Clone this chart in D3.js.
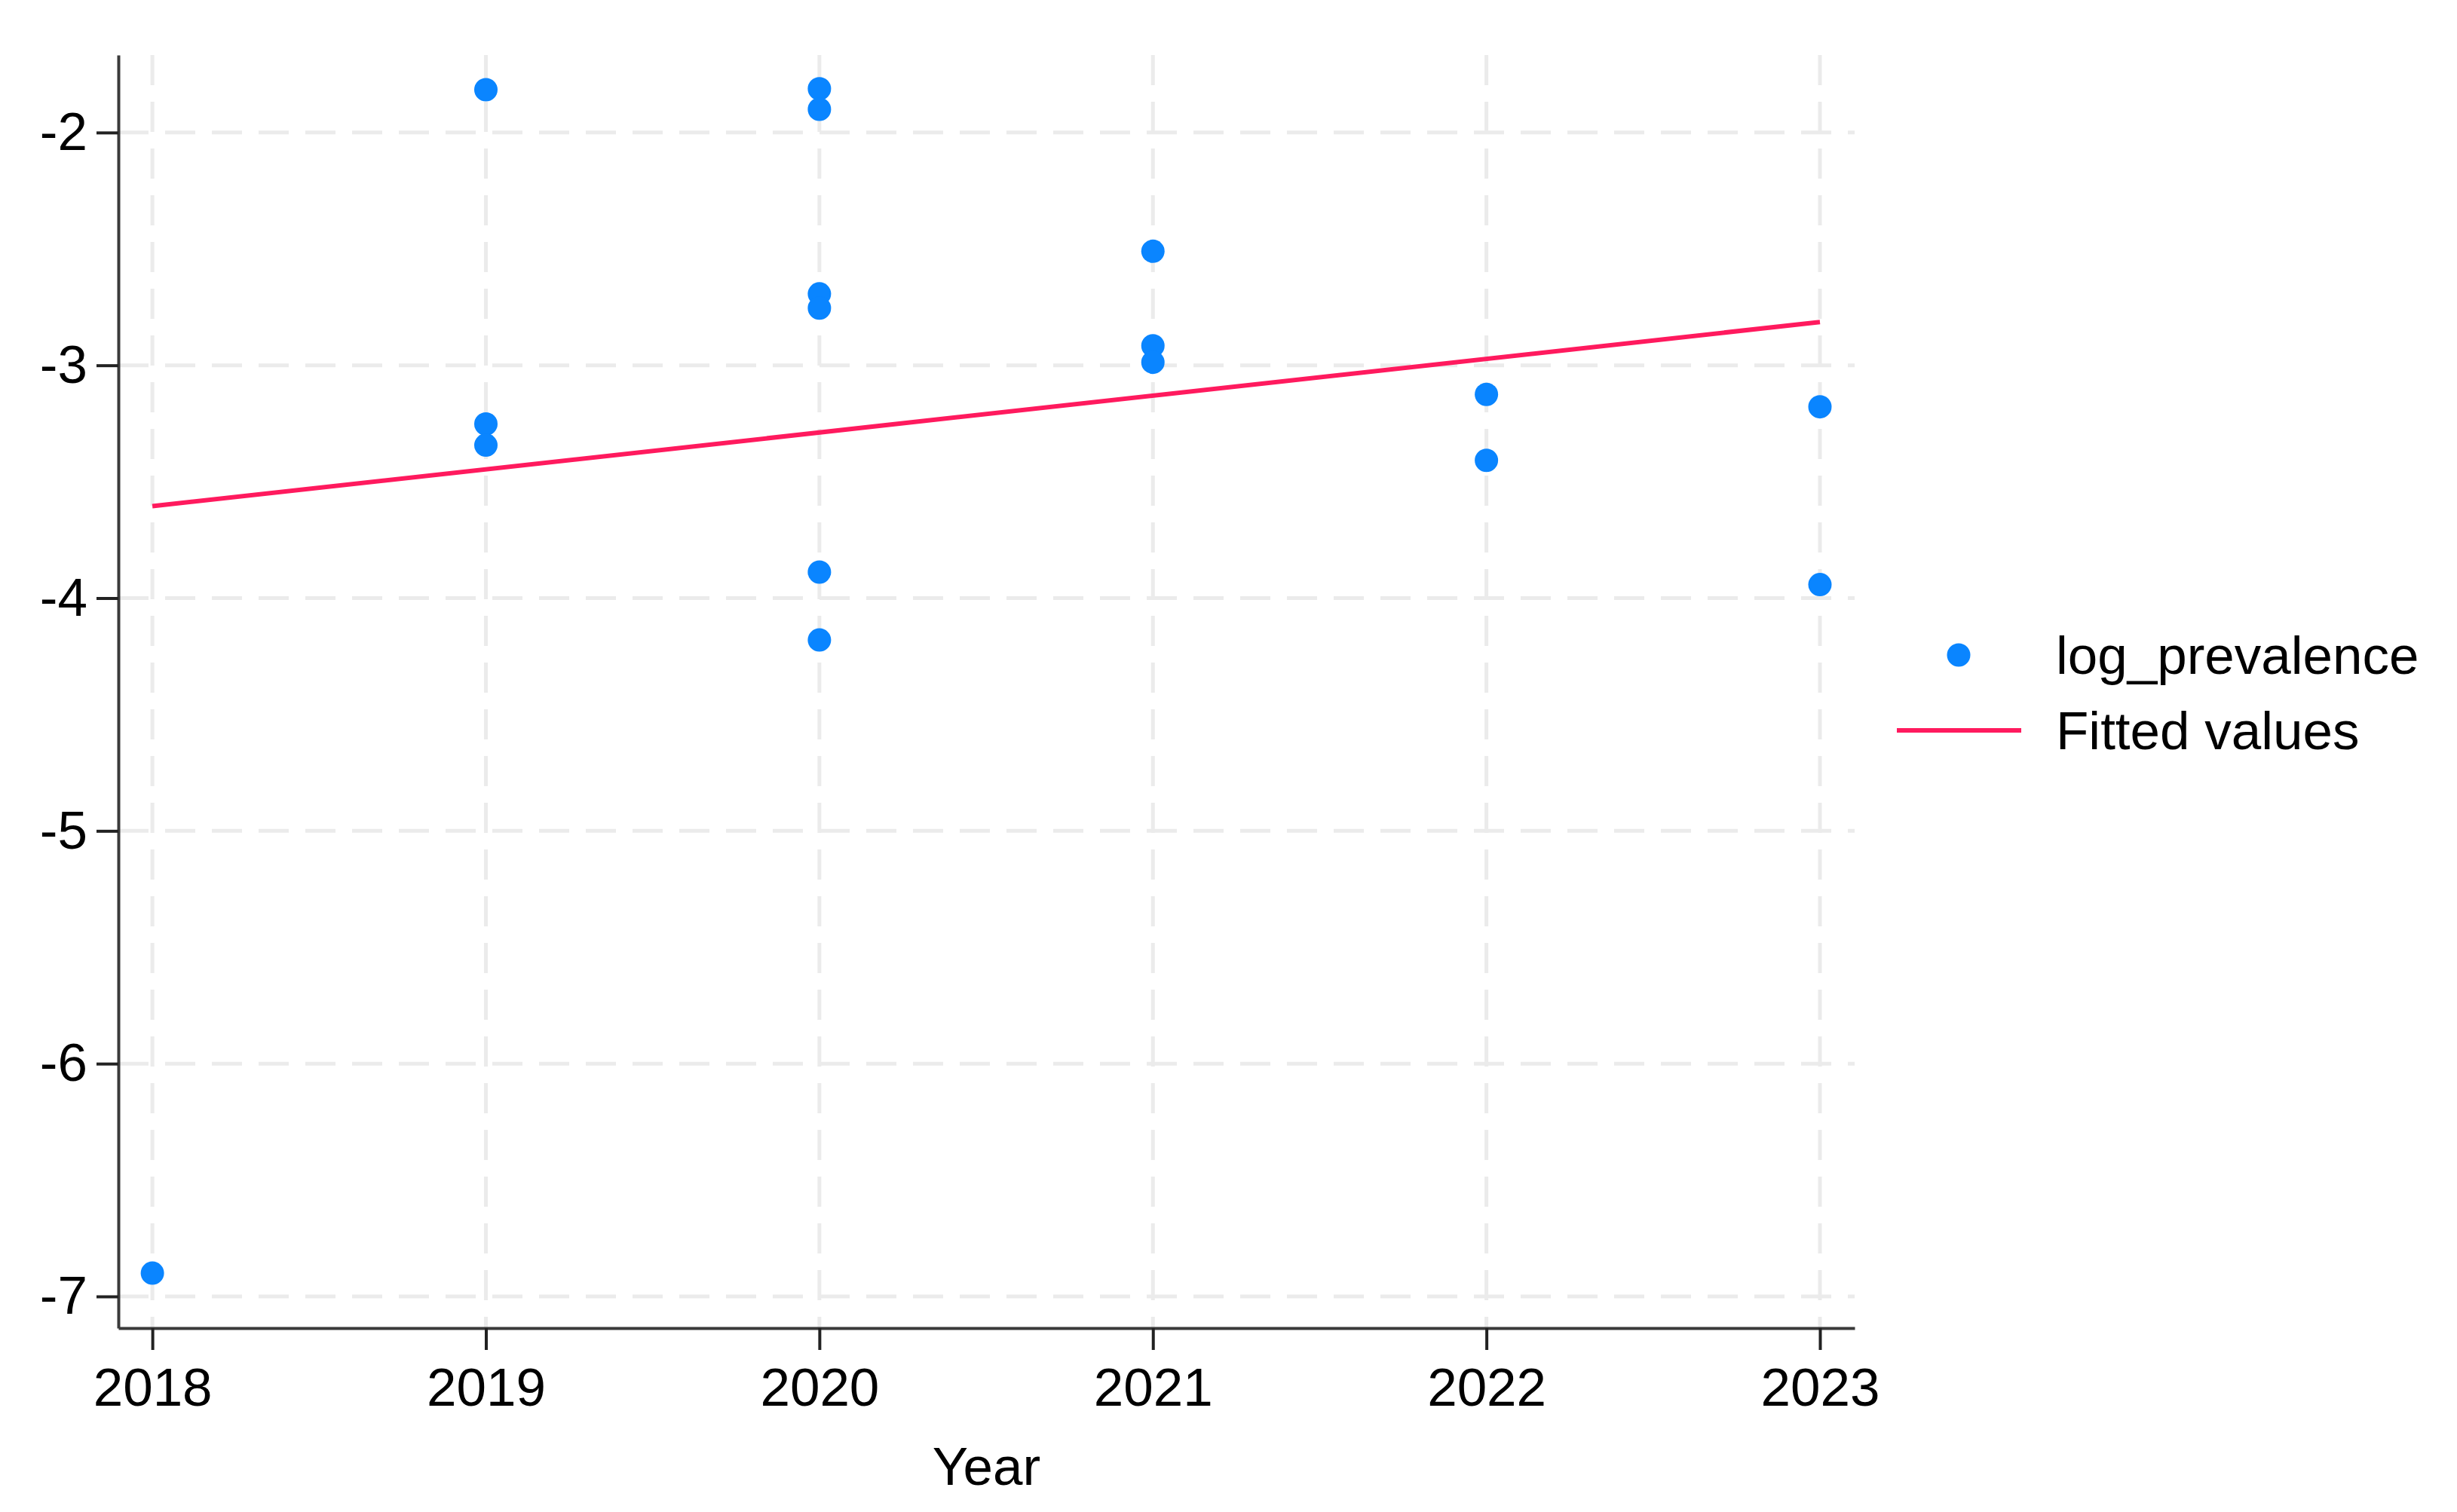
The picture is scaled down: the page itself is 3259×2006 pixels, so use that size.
<!DOCTYPE html>
<html>
<head>
<meta charset="utf-8">
<script src="https://cdn.jsdelivr.net/npm/d3@7"></script>
<style>
  body { margin: 0; background: #fff; }
  text { font-family: "Liberation Sans", Arial, sans-serif; fill: #000; }
</style>
</head>
<body>
<div id="chart"></div>
<script>
// Data
var years = [2018, 2019, 2019, 2019, 2020, 2020, 2020, 2020, 2020, 2020, 2021, 2021, 2021, 2022, 2022, 2023, 2023];
var logPrevalence = [-6.90, -1.816, -3.252, -3.343, -1.812, -1.90, -2.693, -2.754, -3.888, -4.18, -2.51, -2.916, -2.987, -3.125, -3.408, -3.178, -3.942];
var fitYears = [2018, 2023];
var fitValues = [-3.605, -2.814];
var xTicks = [2018, 2019, 2020, 2021, 2022, 2023];
var yTicks = [-2, -3, -4, -5, -6, -7];
var legendLabels = ["log_prevalence", "Fitted values"];

var W = 3259, H = 2006;
var margin = {top: 73, left: 157, right: W - 2460, bottom: H - 1762};
var width = W - margin.left - margin.right,
    height = H - margin.top - margin.bottom;

var svg = d3.select("#chart").append("svg")
  .attr("width", W).attr("height", H);

var g = svg.append("g")
  .attr("transform", "translate(" + margin.left + "," + margin.top + ")");

var x = d3.scaleLinear().domain([2017.898, 2023.104]).range([0, width]);
var y = d3.scaleLinear().domain([-7.136, -1.667]).range([height, 0]);

// gridlines
g.append("g").selectAll("line").data(yTicks).enter().append("line")
  .attr("x1", 0).attr("x2", width)
  .attr("y1", d => y(d)).attr("y2", d => y(d))
  .attr("stroke", "#ebebeb").attr("stroke-width", 5)
  .attr("stroke-dasharray", "40,22");
g.append("g").selectAll("line").data(xTicks).enter().append("line")
  .attr("x1", d => x(d)).attr("x2", d => x(d))
  .attr("y1", 0).attr("y2", height)
  .attr("stroke", "#ebebeb").attr("stroke-width", 5)
  .attr("stroke-dasharray", "40,22");

// axes
var xAxis = g.append("g")
  .attr("transform", "translate(0," + height + ")")
  .call(d3.axisBottom(x).tickValues(xTicks).tickFormat(d3.format("d"))
    .tickSize(29).tickSizeOuter(0).tickPadding(24));
var yAxis = g.append("g")
  .call(d3.axisLeft(y).tickValues(yTicks).tickFormat(d => d.toString().replace("\u2212", "-"))
    .tickSize(29).tickSizeOuter(0).tickPadding(12));

[xAxis, yAxis].forEach(function(a) {
  a.select(".domain").attr("stroke", "#3a3a3a").attr("stroke-width", 4);
  a.selectAll(".tick line").attr("stroke", "#222").attr("stroke-width", 4);
  a.selectAll(".tick text")
    .style("font-family", "'Liberation Sans', Arial, sans-serif")
    .style("font-size", "71px").attr("fill", "#000");
});

// axis title
g.append("text")
  .attr("x", width / 2).attr("y", height + 208)
  .attr("text-anchor", "middle")
  .style("font-size", "71px")
  .text("Year");

// fitted line
var fitData = fitYears.map((d, i) => ({x: d, y: fitValues[i]}));
g.append("path")
  .datum(fitData)
  .attr("d", d3.line().x(d => x(d.x)).y(d => y(d.y)))
  .attr("fill", "none")
  .attr("stroke", "#ff1a5e")
  .attr("stroke-width", 6);

// scatter points
g.append("g").selectAll("circle")
  .data(years.map((d, i) => ({x: d, y: logPrevalence[i]})))
  .enter().append("circle")
  .attr("cx", d => x(d.x))
  .attr("cy", d => y(d.y))
  .attr("r", 15.5)
  .attr("fill", "#0a85ff");

// legend
var legend = svg.append("g");
legend.append("circle")
  .attr("cx", 2598).attr("cy", 869).attr("r", 15.5).attr("fill", "#0a85ff");
legend.append("line")
  .attr("x1", 2516).attr("x2", 2681).attr("y1", 969).attr("y2", 969)
  .attr("stroke", "#ff1a5e").attr("stroke-width", 6);
legend.selectAll("text").data(legendLabels).enter().append("text")
  .attr("x", 2727)
  .attr("y", (d, i) => 894 + i * 100)
  .style("font-size", "71px")
  .text(d => d);
</script>
</body>
</html>
